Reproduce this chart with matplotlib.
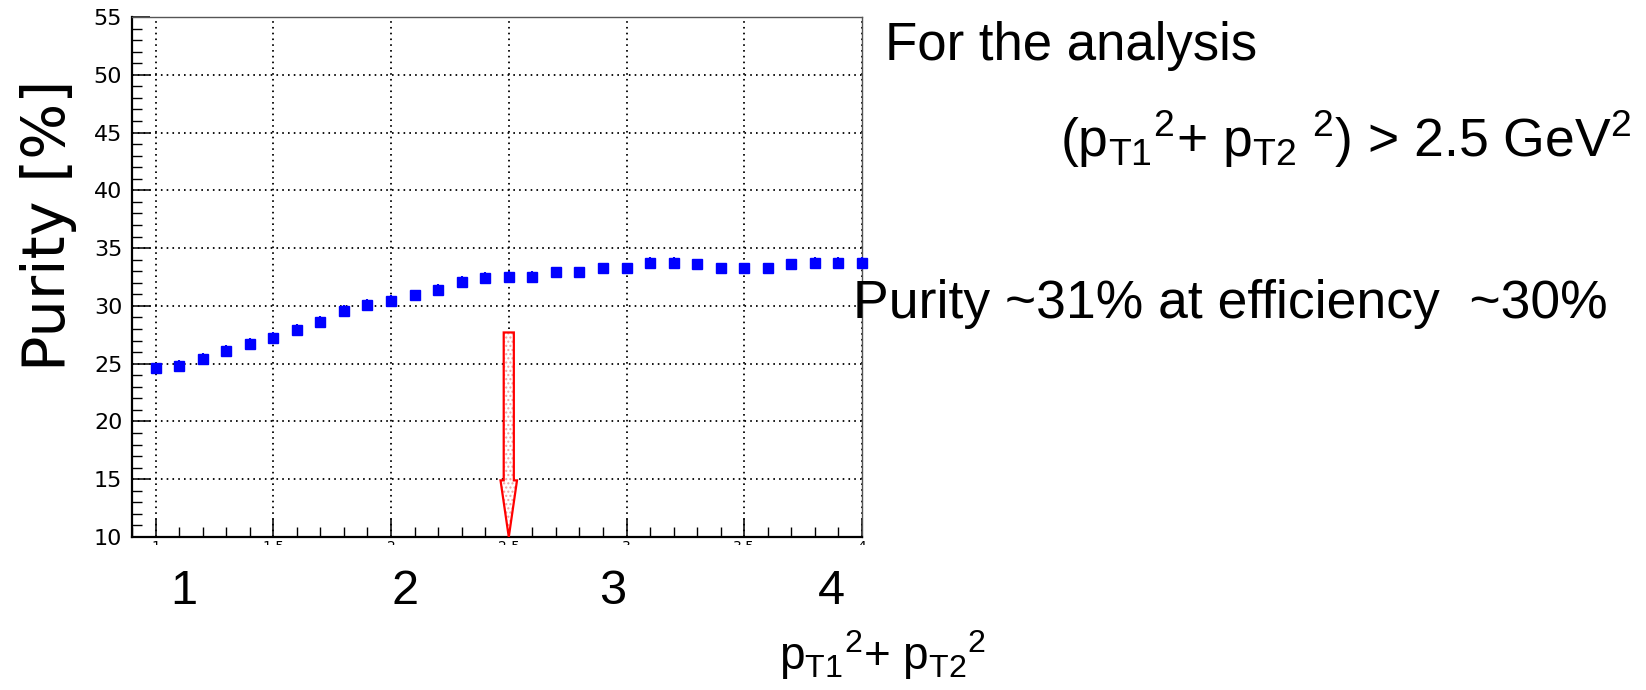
import matplotlib
matplotlib.use("Agg")
import matplotlib.pyplot as plt
from matplotlib.patches import FancyArrow, Rectangle
from matplotlib.ticker import MultipleLocator

plt.rcParams["font.family"] = ["Liberation Sans", "DejaVu Sans"]
plt.rcParams["mathtext.fontset"] = "custom"
plt.rcParams["mathtext.rm"] = "Liberation Sans"

# data
pt2_sum = [1.0, 1.1, 1.2, 1.3, 1.4, 1.5, 1.6, 1.7, 1.8, 1.9, 2.0,
           2.1, 2.2, 2.3, 2.4, 2.5, 2.6, 2.7, 2.8, 2.9, 3.0,
           3.1, 3.2, 3.3, 3.4, 3.5, 3.6, 3.7, 3.8, 3.9, 4.0]
purity = [24.6, 24.8, 25.4, 26.1, 26.7, 27.2, 27.9, 28.6, 29.55, 30.1, 30.45,
          30.9, 31.4, 32.05, 32.45, 32.5, 32.5, 32.9, 32.9, 33.25, 33.25,
          33.75, 33.75, 33.6, 33.25, 33.25, 33.25, 33.6, 33.75, 33.75, 33.75]
purity_err = [0.5] * len(purity)

x_ticks = [1, 1.5, 2, 2.5, 3, 3.5, 4]
x_ticklabels = ["1", "1.5", "2", "2.5", "3", "3.5", "4"]
y_ticks = [10, 15, 20, 25, 30, 35, 40, 45, 50, 55]
big_labels = ["1", "2", "3", "4"]
big_label_px = [184, 405, 613, 831]

cut_value = 2.5
arrow_top = 27.7

W, H = 1646, 690


def fig_xy(x, y):
    return x / W, 1 - y / H


fig = plt.figure(figsize=(W / 100, H / 100), dpi=100)
ax = fig.add_axes([132 / W, 1 - 537 / H, (862 - 132) / W, (537 - 17) / H])

ax.errorbar(pt2_sum, purity, yerr=purity_err, fmt="s", ms=7, color="#0000ff",
            ecolor="#0000ff", elinewidth=1.5, capsize=0, clip_on=False, zorder=4)

ax.set_xlim(0.9, 4.0)
ax.set_ylim(10, 55)
ax.set_xticks(x_ticks)
ax.set_xticklabels(x_ticklabels)
ax.set_yticks(y_ticks)
ax.xaxis.set_minor_locator(MultipleLocator(0.1))
ax.yaxis.set_minor_locator(MultipleLocator(1))

narrow = ["Liberation Sans Narrow", "DejaVu Sans Condensed", "DejaVu Sans"]
ax.tick_params(which="both", direction="in", color="black")
ax.tick_params(which="major", length=13, width=1.1)
ax.tick_params(which="minor", length=7, width=1.0)
ax.tick_params(axis="y", which="major", pad=7, labelsize=16)
ax.tick_params(axis="x", which="major", pad=2, labelsize=10)
for lab in ax.get_yticklabels() + ax.get_xticklabels():
    lab.set_family(narrow)

ax.grid(True, which="major", color="black", linestyle=(0, (0.9, 2.3)), linewidth=1.3)
ax.set_axisbelow(True)

for side in ["left", "bottom"]:
    ax.spines[side].set_linewidth(1.6)
    ax.spines[side].set_color("black")
for side in ["top", "right"]:
    ax.spines[side].set_linewidth(1.0)
    ax.spines[side].set_color("#555555")

# cut marker arrow
arr_fill = FancyArrow(cut_value, arrow_top, 0, 10 - arrow_top, width=0.043,
                      head_width=0.07, head_length=4.9, length_includes_head=True,
                      fc="white", ec="#f2a0a0", lw=0, hatch="....", zorder=5)
arr_edge = FancyArrow(cut_value, arrow_top, 0, 10 - arrow_top, width=0.043,
                      head_width=0.07, head_length=4.9, length_includes_head=True,
                      fc="none", ec="red", lw=1.6, zorder=6)
ax.add_patch(arr_fill)
ax.add_patch(arr_edge)

# hide most of the small x tick labels, as in the reference
x0, y0 = fig_xy(138, 565)
fig.add_artist(Rectangle((x0, y0), (885 - 138) / W, 20 / H, transform=fig.transFigure,
                         fc="white", ec="none", zorder=10))

# large axis numbers
for lab, xp in zip(big_labels, big_label_px):
    fig.text(*fig_xy(xp, 592), lab, fontsize=35, ha="center", va="center")

fig.text(*fig_xy(49, 225), "Purity [%]", fontsize=42.5, rotation=90,
         ha="center", va="center", family="DejaVu Sans")

fig.text(*fig_xy(779, 670),
         r"p$_{\mathregular{T1}}$$^{\mathregular{2}}$+ p$_{\mathregular{T2}}$$^{\mathregular{2}}$",
         fontsize=33, ha="left", va="baseline")

fig.text(*fig_xy(885, 60), "For the analysis", fontsize=38, ha="left", va="baseline")
fig.text(*fig_xy(1060, 157),
         r"(p$_{\mathregular{T1}}$$^{\mathregular{2}}$+ p$_{\mathregular{T2}}$$\;^{\mathregular{2}}$) > 2.5 GeV$^{\mathregular{2}}$",
         fontsize=38.5, ha="left", va="baseline")
fig.text(*fig_xy(853, 318), "Purity ~31% at efficiency  ~30%", fontsize=38.5,
         ha="left", va="baseline")

fig.savefig("out.png", dpi=100)
